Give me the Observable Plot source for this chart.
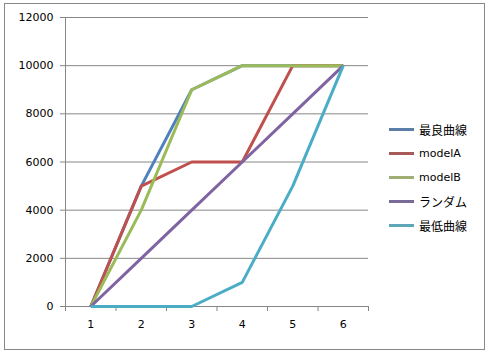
<!DOCTYPE html>
<html>
<head>
<meta charset="utf-8">
<script src="https://cdn.jsdelivr.net/npm/d3@7"></script>
<script src="https://cdn.jsdelivr.net/npm/@observablehq/plot@0.6"></script>
<style>
  html, body { margin: 0; padding: 0; background: #fff; }
  #wrap { position: relative; width: 489px; height: 353px; }
  #frame { position: absolute; left: 4px; top: 3px; width: 479px; height: 345px; border: 1px solid #888; box-sizing: content-box; pointer-events: none; }
  #legend { position: absolute; left: 389px; top: 117px; font-family: "DejaVu Sans", sans-serif; font-size: 11px; color: #000; }
  .item { display: flex; align-items: center; height: 24.2px; }
  .swatch { width: 25px; height: 3px; margin-right: 5px; }
  .jp { font-family: "Noto Sans CJK JP", sans-serif; font-size: 12px; }
</style>
</head>
<body>
<div id="wrap">
  <div id="chart"></div>
  <div id="legend"></div>
  <div id="frame"></div>
</div>
<script>
const categories = [1, 2, 3, 4, 5, 6];
const seriesNames = ["最良曲線", "modelA", "modelB", "ランダム", "最低曲線"];
const seriesColors = ["#4F81BD", "#C0504D", "#9BBB59", "#8064A2", "#4BACC6"];
const legendColors = ["#5a7ea6", "#a85a58", "#9fae74", "#7a6a98", "#5fa6b8"];
const best   = [0, 5000, 9000, 10000, 10000, 10000];
const modelA = [0, 5000, 6000, 6000, 10000, 10000];
const modelB = [0, 4000, 9000, 10000, 10000, 10000];
const random = [0, 2000, 4000, 6000, 8000, 10000];
const worst  = [0, 0, 0, 1000, 5000, 10000];
const yTicks = [0, 2000, 4000, 6000, 8000, 10000, 12000];
const xBounds = [0.5, 1.5, 2.5, 3.5, 4.5, 5.5, 6.5];

const allSeries = [best, modelA, modelB, random, worst];
const data = [];
allSeries.forEach((vals, si) => {
  vals.forEach((v, i) => data.push({series: seriesNames[si], x: categories[i], y: v}));
});

const font = "DejaVu Sans, sans-serif";
const chart = Plot.plot({
  width: 489,
  height: 353,
  marginLeft: 65,
  marginRight: 121,
  marginTop: 17,
  marginBottom: 47,
  style: {fontFamily: font, fontSize: "11px", color: "#000", background: "transparent"},
  x: {domain: [0.5, 6.5], axis: null},
  y: {domain: [0, 12000], axis: null},
  color: {domain: seriesNames, range: seriesColors},
  marks: [
    Plot.ruleY(yTicks, {stroke: "#868686", strokeWidth: 1, strokeOpacity: 1}),
    Plot.ruleX([0.5], {stroke: "#868686", strokeOpacity: 1}),
    Plot.axisY({ticks: yTicks, tickSize: 5, tickPadding: 7, tickFormat: d => String(d), stroke: "#868686", strokeOpacity: 1, fontSize: 11, label: null}),
    Plot.axisX({ticks: xBounds, tickSize: 5, tickFormat: () => "", stroke: "#868686", strokeOpacity: 1, label: null}),
    Plot.axisX({ticks: categories, tickSize: 0, tickPadding: 14, tickFormat: d => String(d), fontSize: 11, label: null}),
    Plot.line(data, {x: "x", y: "y", z: "series", stroke: "series", strokeWidth: 3, strokeLinejoin: "round", strokeLinecap: "butt"})
  ]
});
document.getElementById("chart").appendChild(chart);

const legend = document.getElementById("legend");
seriesNames.forEach((name, i) => {
  const item = document.createElement("div");
  item.className = "item";
  const sw = document.createElement("div");
  sw.className = "swatch";
  sw.style.background = legendColors[i];
  const label = document.createElement("span");
  if (/[^\x00-\x7f]/.test(name)) label.className = "jp";
  label.textContent = name;
  item.appendChild(sw);
  item.appendChild(label);
  legend.appendChild(item);
});
</script>
</body>
</html>
